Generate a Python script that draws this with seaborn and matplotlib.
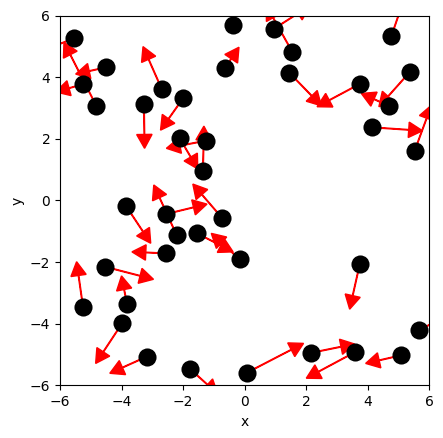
import matplotlib
matplotlib.use("Agg")
import matplotlib.pyplot as plt
import seaborn as sns
import pandas as pd

# point positions
xs = [-5.55, -4.49, -5.25, -4.82, -3.27, -2.69, -2.00, -2.11, -1.24, -1.35,
      -0.37, -0.64, 0.96, 1.56, 1.45, 3.75, 4.78, 5.37, 4.69, 4.15,
      5.53, -3.86, -2.54, -2.21, -1.54, -0.72, -2.54, -0.16, -4.55, -5.25,
      -3.82, -3.98, -3.18, -1.77, 3.75, 5.67, 5.08, 3.58, 2.15, 0.08]
ys = [5.26, 4.32, 3.77, 3.07, 3.14, 3.61, 3.31, 2.02, 1.94, 0.96,
      5.68, 4.29, 5.57, 4.81, 4.15, 3.78, 5.34, 4.16, 3.07, 2.37,
      1.60, -0.17, -0.44, -1.12, -1.07, -0.58, -1.72, -1.91, -2.15, -3.47,
      -3.37, -3.99, -5.07, -5.47, -2.06, -4.21, -5.03, -4.93, -4.95, -5.59]
# arrow vectors (to the tip)
dxs = [-1.00, -1.00, -0.89, -1.05, 0.02, -0.61, -0.73, 0.59, -1.30, 0.03,
       0.25, 0.46, 1.16, -0.85, 1.05, -1.39, 0.40, -1.00, -0.89, 1.64,
       0.55, 0.81, 1.32, -0.74, 1.17, -0.96, -1.12, -0.92, 1.59, -0.21,
       -0.18, -0.86, -1.20, 0.90, -0.33, 1.00, -1.14, -1.57, 1.43, 1.84]
dys = [-0.40, -0.22, -0.25, 2.06, -1.45, 1.38, -1.03, -1.00, -0.25, 1.45,
       1.20, 0.68, 0.74, 1.51, -1.08, -0.74, 1.17, -1.12, 0.40, -0.11,
       1.49, -1.22, 0.32, 1.62, -0.60, 1.11, 0.05, 0.84, -0.41, 1.48,
       0.92, -1.30, -0.54, -0.81, -1.47, 0.50, -0.26, -0.84, 0.29, 0.95]
ticks = [-6, -4, -2, 0, 2, 4, 6]

df = pd.DataFrame({"x": xs, "y": ys})

fig = plt.figure(figsize=(4.43, 4.38), dpi=100)
ax = fig.add_axes([60 / 443, (438 - 385.3) / 438, 369 / 443, 369.8 / 438])

for x, y, dx, dy in zip(xs, ys, dxs, dys):
    ax.arrow(x, y, dx, dy, width=0.02, head_width=0.5, head_length=0.45,
             length_includes_head=True, fc="red", ec="red", lw=1, zorder=2)

sns.scatterplot(data=df, x="x", y="y", ax=ax, color="black", s=170,
                edgecolor="black", linewidth=0, zorder=3)

ax.set_xlim(-6, 6)
ax.set_ylim(-6, 6)
ax.set_xticks(ticks)
ax.set_yticks(ticks)
ax.set_xlabel("x")
ax.set_ylabel("y")

fig.savefig("out.png", dpi=100)
